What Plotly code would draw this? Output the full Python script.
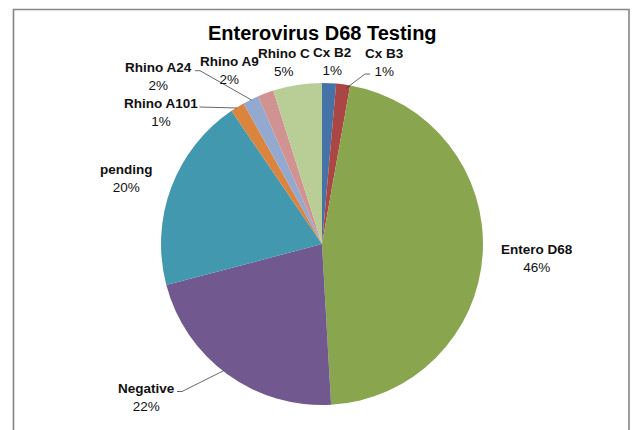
import plotly.graph_objects as go

# ---- data ----
labels = ["Cx B2", "Cx B3", "Entero D68", "Negative", "pending",
          "Rhino A101", "Rhino A24", "Rhino A9", "Rhino C"]
values = [1.4, 1.4, 46.3, 21.8, 19.6, 1.4, 1.6, 1.6, 4.9]
colors = ["#4572A7", "#AA4643", "#89A54E", "#71588F", "#4198AF",
          "#DB843D", "#93A9CF", "#D19392", "#B9CD96"]
title_text = "Enterovirus D68 Testing"

# label block centres in pixels (x, y from top)
label_pos = {
    "Cx B2": (332, 61.5), "Cx B3": (384, 62.5), "Entero D68": (537, 258),
    "Negative": (146, 397), "pending": (127, 178), "Rhino A101": (160.5, 112),
    "Rhino A24": (158, 76), "Rhino A9": (229, 70), "Rhino C": (284, 62),
}
# leader lines (pixel polylines)
leaders = {
    "Cx B3": [(346.5, 88), (365, 74), (370, 74)],
    "Rhino A24": [(195, 70.7), (200, 70.7), (251.5, 100)],
    "Rhino A101": [(199.5, 107), (237, 108)],
    "Negative": [(177, 391.5), (182, 391.5), (224, 370.5)],
}

W, H = 632, 430
cx, cy, r = 322, 244, 161


def px(x):
    return x / W


def py(y):
    return 1 - y / H


fig = go.Figure(go.Pie(
    labels=labels, values=values, sort=False, direction="clockwise",
    rotation=0, marker=dict(colors=colors, line=dict(width=0)),
    textinfo="none", hoverinfo="label+percent", showlegend=False,
    domain=dict(x=[px(cx - r), px(cx + r)], y=[py(cy + r), py(cy - r)]),
))

total = sum(values)
annotations = [dict(
    text="<b>" + title_text + "</b>", x=px(323), y=py(33.5), xref="paper", yref="paper",
    xanchor="center", yanchor="middle", showarrow=False,
    font=dict(family="Liberation Sans, Arial, sans-serif", size=20, color="#000000"),
)]
for lab, val in zip(labels, values):
    x, y = label_pos[lab]
    pct = round(val / total * 100)
    annotations.append(dict(
        text=f"<b>{lab}</b><br>{pct}%", x=px(x), y=py(y), xref="paper", yref="paper",
        xanchor="center", yanchor="middle", showarrow=False, align="center",
        font=dict(family="Liberation Sans, Arial, sans-serif", size=13.5, color="#111111"),
    ))

shapes = [dict(type="rect", xref="paper", yref="paper",
               x0=px(13.5), x1=px(629), y0=-0.1, y1=py(9.5),
               line=dict(color="#858585", width=1.6), fillcolor="rgba(0,0,0,0)", layer="below")]
for lab, pts in leaders.items():
    path = "M " + " L ".join(f"{px(a):.5f},{py(b):.5f}" for a, b in pts)
    shapes.append(dict(type="path", xref="paper", yref="paper", path=path,
                       line=dict(color="#404040", width=0.8)))

fig.update_layout(
    width=W, height=H, margin=dict(l=0, r=0, t=0, b=0),
    paper_bgcolor="white", plot_bgcolor="white",
    annotations=annotations, shapes=shapes,
)

fig.write_html("out.html", config={"displayModeBar": False},
               post_script="document.body.style.margin='0px';document.body.style.overflow='hidden';")
